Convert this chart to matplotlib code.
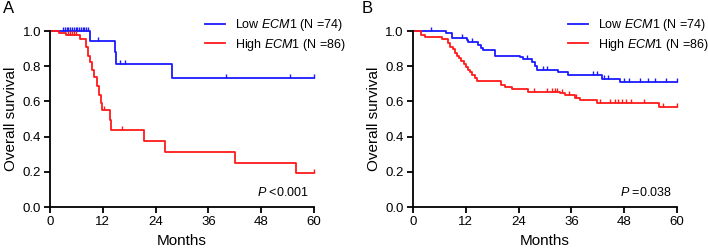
import matplotlib
matplotlib.use('Agg')
import matplotlib.pyplot as plt
import numpy as np

plt.rcParams['font.family'] = ['Liberation Sans', 'DejaVu Sans']
plt.rcParams['mathtext.fontset'] = 'custom'
plt.rcParams['mathtext.rm'] = 'Liberation Sans'
plt.rcParams['mathtext.it'] = 'Liberation Sans:italic'

# Panel A - survival steps (months, survival)
a_low_t = [0, 9.1, 14.7, 15.0, 27.8, 60]
a_low_s = [1.0, 0.945, 0.88, 0.813, 0.732, 0.732]
a_low_cens = [3.0, 3.4, 3.8, 4.2, 4.6, 5.0, 5.4, 5.8, 6.2, 6.6, 7.0, 7.4, 7.8, 8.2, 8.6,
              11.0, 16.0, 17.0, 39.9, 54.6, 60]

a_high_t = [0, 2.1, 3.6, 6.8, 8.2, 8.7, 9.2, 9.6, 10.0, 10.6, 11.1, 11.6, 11.8,
            13.6, 13.8, 21.4, 26.2, 42.1, 56.0, 60]
a_high_s = [1.0, 0.987, 0.977, 0.953, 0.91, 0.86, 0.826, 0.78, 0.737, 0.685, 0.637, 0.59, 0.55,
            0.495, 0.44, 0.376, 0.312, 0.25, 0.193, 0.193]
a_high_cens = [4.0, 4.5, 5.0, 5.5, 6.0, 12.3, 16.3, 60]

# Panel B
b_low_t = [0, 7.6, 8.8, 12.2, 12.5, 14.8, 15.4, 16.0, 18.6, 24.3, 25.0, 27.0, 27.7,
           28.1, 33.0, 35.3, 42.9, 47.0, 60]
b_low_s = [1.0, 0.99, 0.96, 0.95, 0.935, 0.92, 0.905, 0.89, 0.86, 0.85, 0.84, 0.825, 0.80,
           0.78, 0.765, 0.75, 0.73, 0.713, 0.713]
b_low_cens = [4.2, 11.2, 13.5, 25.8, 29.5, 30.5, 40.8, 41.7, 43.5, 44.2, 48.0, 49.0,
              51.5, 53.5, 55.0, 57.5, 60]

b_high_t = [0, 1.8, 2.7, 6.5, 8.0, 8.5, 9.0, 9.5, 10.0, 10.5, 11.0, 11.5, 12.0, 12.5,
            13.0, 13.5, 14.0, 14.6, 20.1, 20.8, 22.4, 26.2, 33.4, 34.5, 36.8, 38.0, 41.8, 56.0, 60]
b_high_s = [1.0, 0.98, 0.965, 0.955, 0.93, 0.91, 0.895, 0.875, 0.86, 0.845, 0.83, 0.815, 0.795,
            0.78, 0.765, 0.75, 0.735, 0.717, 0.694, 0.68, 0.67, 0.655, 0.645, 0.635, 0.62,
            0.608, 0.59, 0.57, 0.57]
b_high_cens = [27.5, 30.5, 31.5, 32.2, 32.8, 33.8, 35.5, 37.0, 42.5, 44.8, 45.8, 46.5,
               47.5, 48.5, 49.5, 52.5, 56.8, 60]

labels = ['Low $\\it{ECM1}$ (N =74)', 'High $\\it{ECM1}$ (N =86)']
xticks = [0, 12, 24, 36, 48, 60]
yticks = [0.0, 0.2, 0.4, 0.6, 0.8, 1.0]

BLUE = '#1a1aff'
RED = '#ff1a1a'
tick_marker = [(0, 0), (0, 1)]


def draw_curve(ax, t, s, cens, color, label):
    ax.step(t, s, where='post', color=color, lw=1.3, label=label, clip_on=False)
    t = np.array(t)
    s = np.array(s)
    idx = np.searchsorted(t, cens, side='right') - 1
    ax.plot(cens, s[idx], linestyle='none', marker=tick_marker, markersize=6,
            markeredgewidth=1.0, color=color, clip_on=False)


def style_axes(ax, ptext):
    ax.set_xlim(0, 60)
    ax.set_ylim(0, 1.0)
    ax.set_xticks(xticks)
    ax.set_yticks(yticks)
    ax.set_yticklabels(['%.1f' % v for v in yticks])
    for sp in ['top', 'right']:
        ax.spines[sp].set_visible(False)
    for sp in ['left', 'bottom']:
        ax.spines[sp].set_linewidth(1.3)
    ax.tick_params(direction='out', length=4, width=1.3, labelsize=9.5, pad=2.5)
    ax.set_xlabel('Months', fontsize=11, labelpad=4)
    ax.set_ylabel('Overall survival', fontsize=11, labelpad=3)
    ax.text(0.98, 0.085, ptext, transform=ax.transAxes, ha='right', va='center', fontsize=9)
    ax.legend(loc='upper right', bbox_to_anchor=(1.12, 1.08), frameon=False, fontsize=9,
              handlelength=1.6, handletextpad=0.8, borderaxespad=0, borderpad=0,
              labelspacing=0.3)


fig = plt.figure(figsize=(7.08, 2.5), dpi=100)
axA = fig.add_axes([0.0706, 0.172, 0.373, 0.704])
axB = fig.add_axes([0.5833, 0.172, 0.373, 0.704])

draw_curve(axA, a_low_t, a_low_s, a_low_cens, BLUE, labels[0])
draw_curve(axA, a_high_t, a_high_s, a_high_cens, RED, labels[1])
style_axes(axA, '$\\it{P}$ <0.001')

draw_curve(axB, b_low_t, b_low_s, b_low_cens, BLUE, labels[0])
draw_curve(axB, b_high_t, b_high_s, b_high_cens, RED, labels[1])
style_axes(axB, '$\\it{P}$ =0.038')

fig.text(0.004, 0.995, 'A', fontsize=12, va='top', ha='left')
fig.text(0.511, 0.995, 'B', fontsize=12, va='top', ha='left')

fig.savefig('out.png', dpi=100)
